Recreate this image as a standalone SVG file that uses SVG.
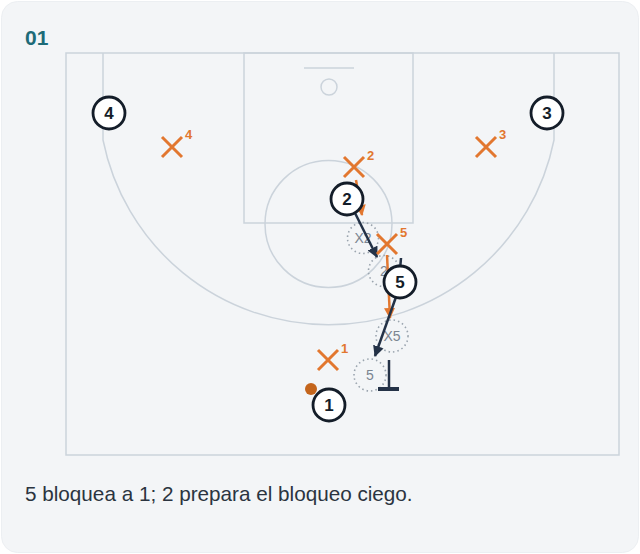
<svg xmlns="http://www.w3.org/2000/svg" width="640" height="554" viewBox="0 0 640 554">
<style>
.court{fill:none;stroke:#cbd3db;stroke-width:1.5}
.pl circle{fill:#fff;stroke:#141d29;stroke-width:2.8}
.pl text{font-family:"Liberation Sans",Arial,sans-serif;font-weight:bold;font-size:17px;fill:#141d29;text-anchor:middle}
.df path{stroke:#e2772f;stroke-width:3;fill:none;stroke-linecap:butt}
.df text{font-family:"Liberation Sans",Arial,sans-serif;font-weight:bold;font-size:13px;fill:#e2772f}
.gh circle{fill:none;stroke:#9aa4ae;stroke-width:1.6;stroke-dasharray:1.5 3}
.gh text{font-family:"Liberation Sans",Arial,sans-serif;font-size:14px;fill:#7b8591;text-anchor:middle}
.dark{stroke:#243247;stroke-width:2.5;fill:none}
.orange{stroke:#e2772f;stroke-width:2.5;fill:none}
</style>
<defs>
<marker id="ad" markerWidth="11" markerHeight="11" refX="10" refY="5.5" orient="auto" markerUnits="userSpaceOnUse"><path d="M0,0 L11,5.5 L0,11 Z" fill="#243247"/></marker>
<marker id="ao" markerWidth="11" markerHeight="11" refX="10" refY="5.5" orient="auto" markerUnits="userSpaceOnUse"><path d="M0,0 L11,5.5 L0,11 Z" fill="#e2772f"/></marker>
</defs>
<rect x="1.5" y="1.5" width="637" height="551" rx="16" fill="#f3f5f7" stroke="#eceff2"/>
<text x="25" y="45" font-family="'Liberation Sans',Arial,sans-serif" font-weight="bold" font-size="21" fill="#1d6b78">01</text>
<g id="court">
<rect class="court" x="66" y="53" width="553" height="402"/>
<rect class="court" x="244" y="53" width="169" height="170"/>
<circle class="court" cx="328.5" cy="224" r="63.5"/>
<line class="court" x1="304" y1="68" x2="354" y2="68"/>
<circle class="court" cx="329" cy="87" r="8"/>
<path class="court" d="M103,53 L103,140 A230,230 0 0 0 554,140 L554,53"/>
</g>
<g id="ghosts">
<g class="gh" id="ghost-x2"><circle cx="363" cy="238" r="15.5"/><text x="363" y="243">X2</text></g>
<g class="gh" id="ghost-2"><circle cx="384" cy="271" r="15.5"/><text x="384" y="276">2</text></g>
<g class="gh" id="ghost-x5"><circle cx="392" cy="336" r="16"/><text x="392" y="341">X5</text></g>
<g class="gh" id="ghost-5"><circle cx="370" cy="375" r="16"/><text x="370" y="380">5</text></g>
</g>
<g id="connectors">
<line class="orange" x1="356" y1="180" x2="362" y2="215" marker-end="url(#ao)"/>
<line class="orange" x1="387" y1="255" x2="390" y2="318" marker-end="url(#ao)"/>
<line class="dark" x1="354" y1="211" x2="377" y2="257" marker-end="url(#ad)"/>
<line class="dark" x1="401" y1="258" x2="400" y2="270"/>
<line class="dark" x1="396" y1="297" x2="375" y2="356" marker-end="url(#ad)"/>
<line class="dark" x1="389" y1="360" x2="389" y2="389"/>
<line stroke="#243247" stroke-width="4" x1="378" y1="389" x2="399" y2="389"/>
</g>
<g class="df" id="x4"><path d="M162,137 L182,157 M182,137 L162,157"/><text x="185" y="139">4</text></g>
<g class="df" id="x3"><path d="M476,137 L496,157 M496,137 L476,157"/><text x="499" y="139">3</text></g>
<g class="df" id="x2"><path d="M344,157 L364,177 M364,157 L344,177"/><text x="367" y="160">2</text></g>
<g class="df" id="x5"><path d="M377,234 L397,254 M397,234 L377,254"/><text x="400" y="237">5</text></g>
<g class="df" id="x1"><path d="M318,350 L338,370 M338,350 L318,370"/><text x="341" y="353">1</text></g>
<circle id="ball" cx="311" cy="389" r="6" fill="#c4651c"/>
<g class="pl" id="p4"><circle cx="109" cy="113" r="16"/><text x="109" y="119">4</text></g>
<g class="pl" id="p3"><circle cx="547" cy="113" r="16"/><text x="547" y="119">3</text></g>
<g class="pl" id="p2"><circle cx="347" cy="199" r="16"/><text x="347" y="205">2</text></g>
<g class="pl" id="p5"><circle cx="400" cy="282" r="16"/><text x="400" y="288">5</text></g>
<g class="pl" id="p1"><circle cx="329" cy="405" r="16"/><text x="329" y="411">1</text></g>
<text x="25" y="501" font-family="'Liberation Sans',Arial,sans-serif" font-size="20.7" fill="#2b3440">5 bloquea a 1; 2 prepara el bloqueo ciego.</text>
</svg>
